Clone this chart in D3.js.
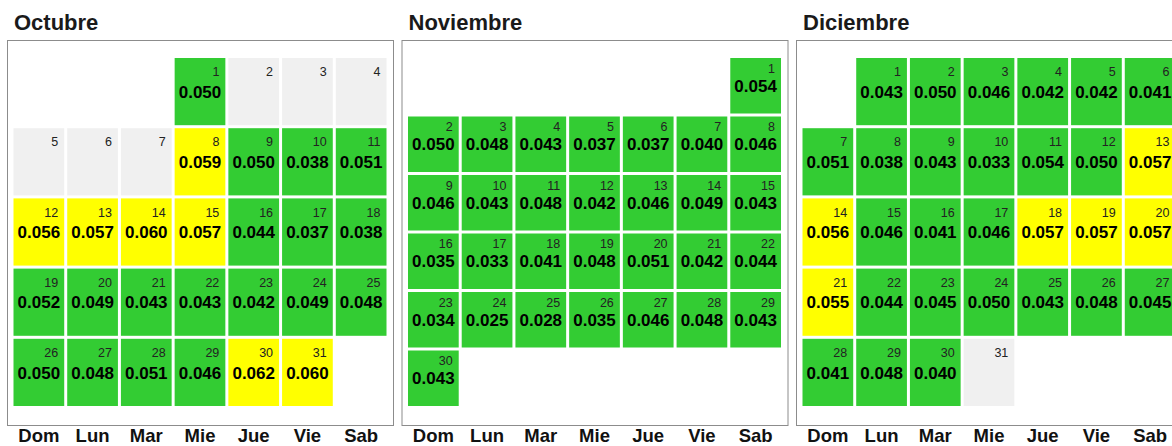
<!DOCTYPE html>
<html>
<head>
<meta charset="utf-8">
<script src="https://cdn.jsdelivr.net/npm/d3@7"></script>
<style>
body { margin:0; background:#fff; }
text { font-family: "Liberation Sans", Arial, Helvetica, sans-serif; }
</style>
</head>
<body>
<script>
// year 2014, months shown
var year = 2014
var months = ["Octubre","Noviembre","Diciembre"]
var monthIndex = [9,10,11]
var weekdays = ["Dom","Lun","Mar","Mie","Jue","Vie","Sab"]

// daily values (null = sin dato)
var octubre = [0.050,null,null,null,null,null,null,0.059,0.050,0.038,0.051,
  0.056,0.057,0.060,0.057,0.044,0.037,0.038,
  0.052,0.049,0.043,0.043,0.042,0.049,0.048,
  0.050,0.048,0.051,0.046,0.062,0.060]
var noviembre = [0.054,
  0.050,0.048,0.043,0.037,0.037,0.040,0.046,
  0.046,0.043,0.048,0.042,0.046,0.049,0.043,
  0.035,0.033,0.041,0.048,0.051,0.042,0.044,
  0.034,0.025,0.028,0.035,0.046,0.048,0.043,
  0.043]
var diciembre = [0.043,0.050,0.046,0.042,0.042,0.041,
  0.051,0.038,0.043,0.033,0.054,0.050,0.057,
  0.056,0.046,0.041,0.046,0.057,0.057,0.057,
  0.055,0.044,0.045,0.050,0.043,0.048,0.045,
  0.041,0.048,0.040,null]
var values = [octubre,noviembre,diciembre]

var threshold = 0.055
var colGreen = "#33cc33", colYellow = "#ffff00", colNA = "#f0f0f0"

var width = 1172
var height = 446
var boxTop = 40, boxBottom = 425, boxW = 386
var boxX = [7, 401.5, 796]

var svg = d3.select("body").append("svg")
  .attr("width", width)
  .attr("height", height)

for (var i in months) {
  drawMonth(+i)
}

function drawMonth(i) {
  var m = monthIndex[i]
  var vals = values[i]
  var first = new Date(year, m, 1).getDay()
  var days = vals.map(function(v, k) {
    var d = k + 1
    return { day: d, value: v, wd: (first + k) % 7, week: Math.floor((first + k) / 7) }
  })
  var nWeeks = d3.max(days, function(d) { return d.week }) + 1

  var x0 = boxX[i]
  var g = svg.append("g")

  g.append("text").text(months[i])
    .attr("x", x0 + 7).attr("y", 30)
    .attr("fill", "#1a1a1a")
    .style("font-size", "22px").style("font-weight", "bold")

  g.append("rect")
    .attr("x", x0 + 0.5).attr("y", boxTop + 0.5)
    .attr("width", boxW).attr("height", boxBottom - boxTop)
    .attr("fill", "none").attr("stroke", "#8c8c8c").attr("stroke-width", 1)

  var x = d3.scaleBand().domain(d3.range(7))
    .range([x0 + 5, x0 + boxW - 5]).padding(0)
  var y = d3.scaleBand().domain(d3.range(nWeeks))
    .range([boxTop + 16.5, boxBottom - 17.5]).padding(0)
  var gap = 1.5

  var cell = g.selectAll("g.cell").data(days).enter().append("g").attr("class", "cell")

  cell.append("rect")
    .attr("x", function(d) { return x(d.wd) + gap })
    .attr("y", function(d) { return y(d.week) + gap })
    .attr("width", x.bandwidth() - 2 * gap)
    .attr("height", y.bandwidth() - 2 * gap)
    .attr("fill", function(d) {
      if (d.value == null) return colNA
      return d.value >= threshold ? colYellow : colGreen
    })

  cell.append("text").text(function(d) { return d.day })
    .attr("x", function(d) { return x(d.wd) + x.bandwidth() / 2 + x.step() * 0.36 })
    .attr("y", function(d) { return y(d.week) + y.bandwidth() / 2 - y.step() * 0.22 })
    .attr("text-anchor", "end")
    .attr("fill", "#222")
    .style("font-size", "12.5px")

  cell.filter(function(d) { return d.value != null })
    .append("text").text(function(d) { return d3.format(".3f")(d.value) })
    .attr("x", function(d) { return x(d.wd) + x.bandwidth() / 2 })
    .attr("y", function(d) { return y(d.week) + y.bandwidth() / 2 })
    .attr("dy", "0.36em")
    .attr("text-anchor", "middle")
    .attr("fill", "#000")
    .style("font-size", "17px").style("font-weight", "bold")

  g.selectAll("text.wd").data(weekdays).enter().append("text")
    .attr("class", "wd")
    .text(function(d) { return d })
    .attr("x", function(d, k) { return x(k) + x.bandwidth() / 2 })
    .attr("y", 441.5)
    .attr("text-anchor", "middle")
    .attr("fill", "#111")
    .style("font-size", "18.5px").style("font-weight", "bold")
}
</script>
</body>
</html>
